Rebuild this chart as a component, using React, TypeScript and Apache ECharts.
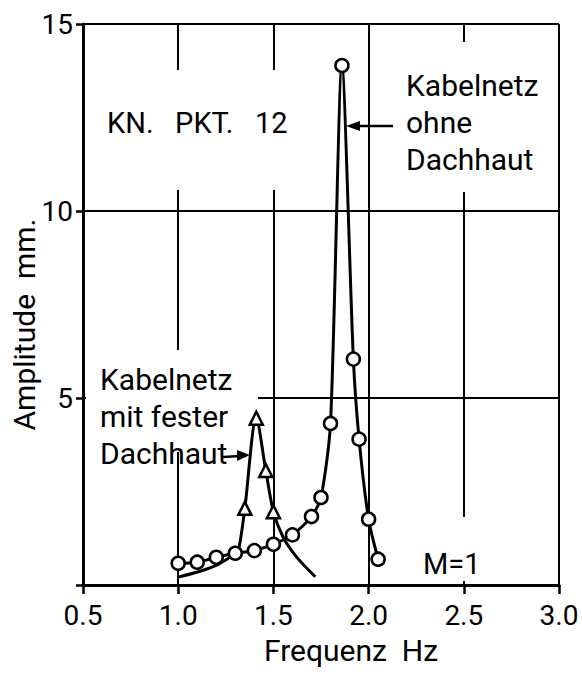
import React, { useEffect, useRef } from 'react';
import * as echarts from 'echarts';

const FONT = 'Roboto, "DejaVu Sans", sans-serif';

// Kabelnetz ohne Dachhaut (circles)
const circleFreq = [1.0, 1.1, 1.2, 1.3, 1.4, 1.5, 1.6, 1.7, 1.75, 1.8, 1.86, 1.92, 1.95, 2.0, 2.05];
const circleAmp = [0.58, 0.61, 0.74, 0.85, 0.92, 1.09, 1.34, 1.83, 2.34, 4.32, 13.89, 6.04, 3.9, 1.76, 0.69];

// Kabelnetz mit fester Dachhaut (triangles + drawn curve)
const triFreq = [1.35, 1.41, 1.46, 1.5];
const triAmp = [2.05, 4.46, 3.06, 1.96];
const triCurveFreq = [1.0, 1.11, 1.21, 1.3, 1.32, 1.35, 1.41, 1.46, 1.5, 1.55, 1.62, 1.72];
const triCurveAmp = [0.21, 0.36, 0.55, 0.85, 1.02, 2.05, 4.46, 3.06, 1.96, 1.29, 0.76, 0.22];

const xName = 'Frequenz\u00a0\u00a0Hz';
const yName = 'Amplitude\u00a0\u00a0mm.';

export default function App() {
  const ref = useRef<HTMLDivElement>(null);
  useEffect(() => {
    const chart = echarts.init(ref.current!, null, { renderer: 'svg' });
    const black = '#000';
    const textBase = { fill: black, fontFamily: FONT };
    chart.setOption({
      animation: false,
      backgroundColor: '#fff',
      grid: { left: 83, right: 23, top: 24, bottom: 92, containLabel: false, outerBoundsMode: 'none' },
      xAxis: {
        type: 'value', min: 0.5, max: 3.0, interval: 0.5,
        name: xName, nameLocation: 'middle', nameGap: 50, nameMoveOverlap: false,
        nameTextStyle: { fontSize: 30, lineHeight: 30, color: black, fontFamily: FONT, padding: [0, 0, 0, 60] },
        axisLine: { show: true, onZero: false, lineStyle: { color: black, width: 3 } },
        axisTick: { show: true, length: 9, lineStyle: { color: black, width: 2.5 } },
        axisLabel: { fontSize: 28, lineHeight: 26, color: black, fontFamily: FONT, margin: 17, formatter: (v: number) => v.toFixed(1) },
        splitLine: { show: true, lineStyle: { color: black, width: 2 } },
      },
      yAxis: {
        type: 'value', min: 0, max: 15, interval: 5,
        name: yName, nameLocation: 'middle', nameGap: 43, nameRotate: 90, nameMoveOverlap: false,
        nameTextStyle: { fontSize: 30, lineHeight: 32, color: black, fontFamily: FONT, padding: [0, 40, 0, 0] },
        axisLine: { show: true, onZero: false, lineStyle: { color: black, width: 3 } },
        axisTick: { show: true, length: 7, lineStyle: { color: black, width: 2.5 } },
        axisLabel: { fontSize: 28, color: black, fontFamily: FONT, margin: 10, formatter: (v: number) => (v === 0 ? '' : String(v)) },
        splitLine: { show: true, lineStyle: { color: black, width: 2 } },
      },
      series: [
        {
          name: 'Kabelnetz ohne Dachhaut', type: 'line', z: 4,
          data: circleFreq.map((x, i) => [x, circleAmp[i]]),
          smooth: 0.25, symbol: 'circle', symbolSize: 13, showAllSymbol: true,
          itemStyle: { color: '#fff', borderColor: black, borderWidth: 2.5 },
          lineStyle: { color: black, width: 3 },
        },
        {
          name: 'Kabelnetz mit fester Dachhaut (Kurve)', type: 'line', z: 3,
          data: triCurveFreq.map((x, i) => [x, triCurveAmp[i]]),
          smooth: 0.3, symbol: 'none',
          lineStyle: { color: black, width: 3 },
        },
        {
          name: 'Kabelnetz mit fester Dachhaut', type: 'scatter', z: 5,
          data: triFreq.map((x, i) => [x, triAmp[i]]),
          symbol: 'triangle', symbolSize: 13,
          itemStyle: { color: '#fff', borderColor: black, borderWidth: 2.5, opacity: 1 },
        },
      ],
      graphic: {
        elements: [
          { type: 'rect', z: 1, shape: { x: 100, y: 70, width: 196, height: 120 }, style: { fill: '#fff' } },
          { type: 'rect', z: 1, shape: { x: 398, y: 42, width: 150, height: 150 }, style: { fill: '#fff' } },
          { type: 'rect', z: 1, shape: { x: 86, y: 350, width: 172, height: 102 }, style: { fill: '#fff' } },
          { type: 'rect', z: 1, shape: { x: 415, y: 517, width: 80, height: 64 }, style: { fill: '#fff' } },
          { type: 'text', z: 6, x: 107, y: 123, style: { ...textBase, text: 'KN.\u00a0\u00a0\u00a0PKT.\u00a0\u00a0\u00a012', fontSize: 29, verticalAlign: 'middle' } },
          { type: 'text', z: 6, x: 406, y: 122, style: { ...textBase, text: 'Kabelnetz\nohne\nDachhaut', fontSize: 30, lineHeight: 37, verticalAlign: 'middle' } },
          { type: 'text', z: 6, x: 100, y: 416, style: { ...textBase, text: 'Kabelnetz\nmit fester\nDachhaut', fontSize: 30, lineHeight: 37, verticalAlign: 'middle' } },
          { type: 'text', z: 6, x: 423, y: 564, style: { ...textBase, text: 'M=1', fontSize: 29, verticalAlign: 'middle' } },
          { type: 'line', z: 6, shape: { x1: 393, y1: 126, x2: 356, y2: 126 }, style: { stroke: black, lineWidth: 2.5 } },
          { type: 'polygon', z: 6, shape: { points: [[346, 126], [360, 121], [360, 131]] }, style: { fill: black } },
          { type: 'line', z: 6, shape: { x1: 223, y1: 457, x2: 240, y2: 456 }, style: { stroke: black, lineWidth: 2.5 } },
          { type: 'polygon', z: 6, shape: { points: [[250, 455], [237, 450], [237, 461]] }, style: { fill: black } },
        ],
      },
    });
    return () => chart.dispose();
  }, []);
  return <div ref={ref} style={{ position: 'fixed', left: 0, top: 0, width: 582, height: 677, background: '#fff' }} />;
}
